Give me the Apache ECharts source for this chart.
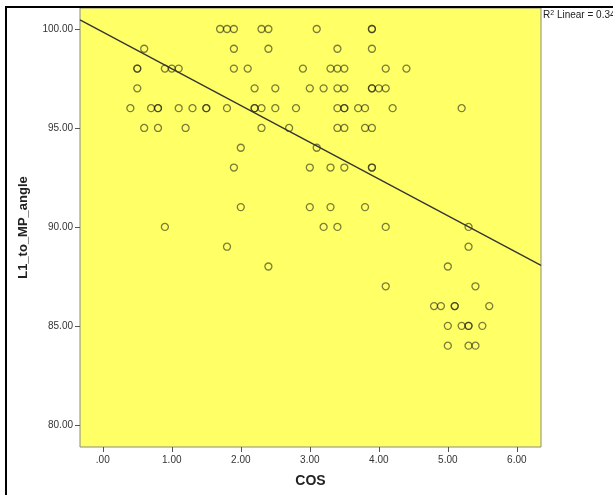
<!DOCTYPE html>
<html>
<head>
<meta charset="utf-8">
<script src="https://cdn.jsdelivr.net/npm/echarts@6/dist/echarts.min.js"></script>
<style>
  html, body { margin: 0; padding: 0; background: #fff; }
  #chart { width: 613px; height: 495px; }
</style>
</head>
<body>
<div id="chart"></div>
<script>
// points read row by row (one row per angle value)
const cosValues = [
  1.7, 1.8, 1.9, 2.3, 2.4, 3.1, 3.9, 3.9,                       // 100
  0.6, 1.9, 2.4, 3.4, 3.9,                                      // 99
  0.5, 0.5, 0.9, 1.0, 1.1, 1.9, 2.1, 2.9, 3.3, 3.4, 3.5, 4.1, 4.4, // 98
  0.5, 2.2, 2.5, 3.0, 3.2, 3.4, 3.5, 3.9, 3.9, 4.0, 4.1,        // 97
  0.4, 0.7, 0.8, 0.8, 1.1, 1.3, 1.5, 1.5, 1.8, 2.2, 2.2, 2.3,
  2.5, 2.8, 3.4, 3.5, 3.5, 3.7, 3.8, 4.2, 5.2,                  // 96
  0.6, 0.8, 1.2, 2.3, 2.7, 3.4, 3.5, 3.8, 3.9,                  // 95
  2.0, 3.1,                                                     // 94
  1.9, 3.0, 3.3, 3.5, 3.9, 3.9,                                 // 93
  2.0, 3.0, 3.3, 3.8,                                           // 91
  0.9, 3.2, 3.4, 4.1, 5.3,                                      // 90
  1.8, 5.3,                                                     // 89
  2.4, 5.0,                                                     // 88
  4.1, 5.4,                                                     // 87
  4.8, 4.9, 5.1, 5.1, 5.6,                                      // 86
  5.0, 5.2, 5.3, 5.3, 5.5,                                      // 85
  5.0, 5.3, 5.4                                                 // 84
]
const angleRows = [100, 99, 98, 97, 96, 95, 94, 93, 91, 90, 89, 88, 87, 86, 85, 84]
const rowCounts = [8, 5, 13, 11, 21, 9, 2, 6, 4, 5, 2, 2, 2, 5, 5, 3]

const xTickValues = [0, 1, 2, 3, 4, 5, 6]
const xTickLabels = ['.00', '1.00', '2.00', '3.00', '4.00', '5.00', '6.00']
const yTickValues = [80, 85, 90, 95, 100]
const yTickLabels = ['80.00', '85.00', '90.00', '95.00', '100.00']

const xMin = -0.33, xMax = 6.35
const yMin = 78.88, yMax = 101.06

const angleValues = []
angleRows.forEach((a, i) => {
  for (let k = 0; k < rowCounts[i]; k++) angleValues.push(a)
})
const points = cosValues.map((c, i) => [c, angleValues[i]])

// least squares fit
const n = points.length
const mx = cosValues.reduce((s, v) => s + v, 0) / n
const my = angleValues.reduce((s, v) => s + v, 0) / n
let sxy = 0, sxx = 0, syy = 0
points.forEach(([x, y]) => {
  sxy += (x - mx) * (y - my)
  sxx += (x - mx) ** 2
  syy += (y - my) ** 2
})
const slope = sxy / sxx
const intercept = my - slope * mx
const r2 = (sxy * sxy) / (sxx * syy)

const chart = echarts.init(document.getElementById('chart'))

const labelOf = (values, labels) => v => {
  const i = values.findIndex(t => Math.abs(t - v) < 1e-6)
  return i >= 0 ? labels[i] : ''
}

chart.setOption({
  animation: false,
  grid: {
    left: 80, right: 72, top: 8, bottom: 48,
    show: true,
    backgroundColor: '#ffff66',
    borderColor: '#8a8a8a',
    borderWidth: 1
  },
  xAxis: {
    type: 'value',
    min: xMin,
    max: xMax,
    name: 'COS',
    nameLocation: 'middle',
    nameGap: 27,
    nameTextStyle: { fontFamily: 'Liberation Sans, Arial', fontWeight: 'bold', fontSize: 14, color: '#222' },
    axisLine: { show: false, onZero: false },
    splitLine: { show: false },
    axisTick: { show: true, length: 5, customValues: xTickValues, lineStyle: { color: '#555' } },
    axisLabel: {
      customValues: xTickValues,
      formatter: labelOf(xTickValues, xTickLabels),
      fontFamily: 'Liberation Sans, Arial',
      fontSize: 10,
      color: '#333',
      margin: 8
    }
  },
  yAxis: {
    type: 'value',
    min: yMin,
    max: yMax,
    name: 'L1_to_MP_angle',
    nameLocation: 'middle',
    nameGap: 50,
    nameTextStyle: { fontFamily: 'Liberation Sans, Arial', fontWeight: 'bold', fontSize: 13, color: '#222' },
    axisLine: { show: false, onZero: false },
    splitLine: { show: false },
    axisTick: { show: true, length: 5, customValues: yTickValues, lineStyle: { color: '#555' } },
    axisLabel: {
      customValues: yTickValues,
      formatter: labelOf(yTickValues, yTickLabels),
      fontFamily: 'Liberation Sans, Arial',
      fontSize: 10,
      color: '#333',
      margin: 7
    }
  },
  graphic: [
    {
      type: 'rect',
      shape: { x: 6, y: 7, width: 640, height: 520 },
      style: { fill: 'none', stroke: '#000', lineWidth: 2 },
      z: 100
    },
    {
      type: 'text',
      left: 543,
      top: 10,
      style: {
        text: 'R{sup|2} Linear = ' + r2.toFixed(3),
        fontFamily: 'Liberation Sans, Arial',
        fontSize: 10,
        fill: '#222',
        rich: { sup: { fontSize: 7, verticalAlign: 'top', padding: [0, 0, 4, 0] } }
      }
    }
  ],
  series: [
    {
      type: 'scatter',
      data: points,
      symbol: 'circle',
      symbolSize: 7,
      itemStyle: {
        color: 'rgba(0,0,0,0)',
        borderColor: 'rgba(30,30,20,0.72)',
        borderWidth: 1.3
      },
      silent: true
    },
    {
      type: 'line',
      data: [[xMin, intercept + slope * xMin], [xMax, intercept + slope * xMax]],
      symbol: 'none',
      lineStyle: { color: '#333', width: 1.3 },
      silent: true
    }
  ]
})
</script>
</body>
</html>
